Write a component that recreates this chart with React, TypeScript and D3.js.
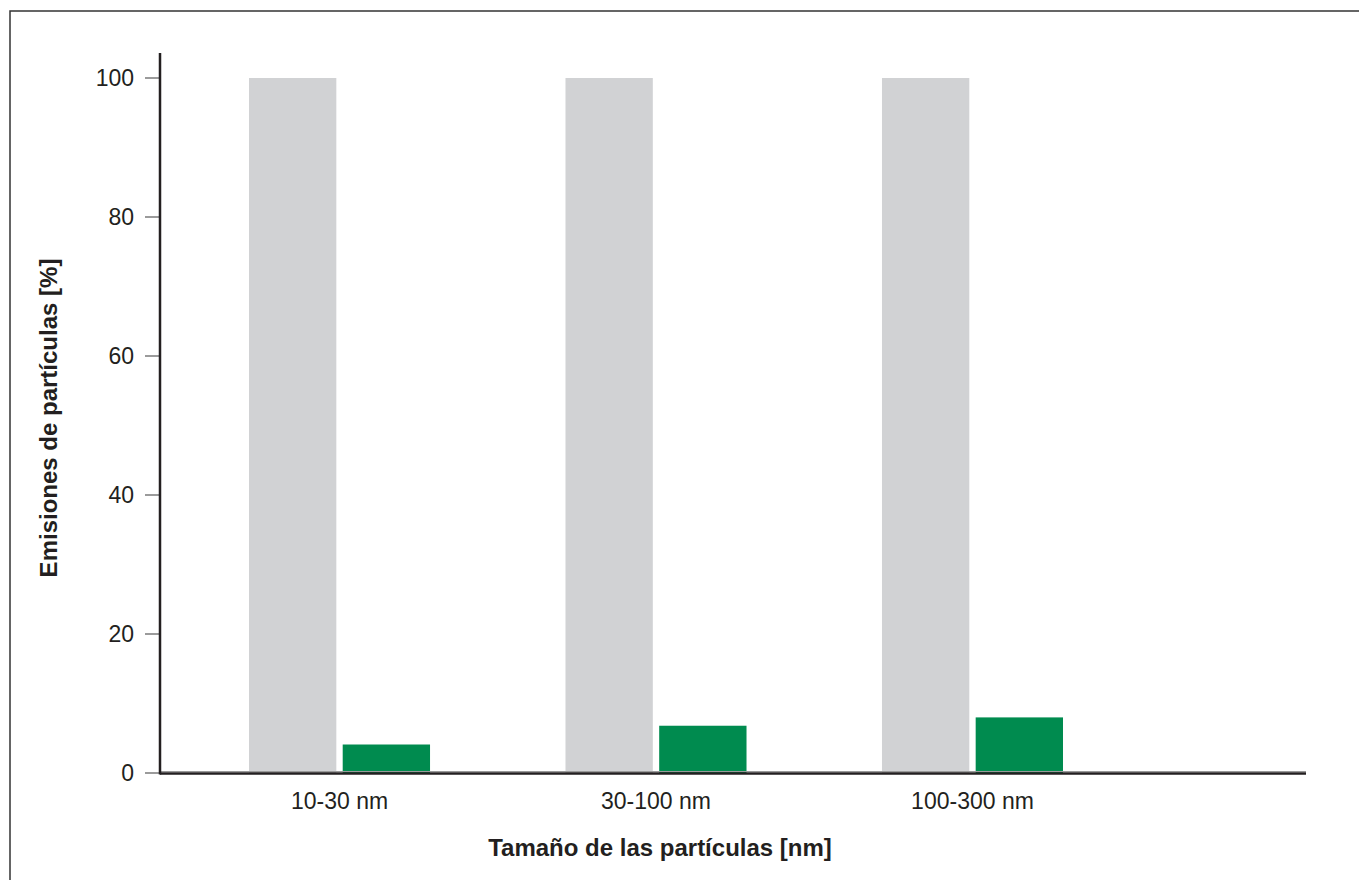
import { useEffect, useRef } from "react";
import * as d3 from "d3";

const categories = ["10-30 nm", "30-100 nm", "100-300 nm"];
const series = ["referencia", "filtro"];
const referenceValues = [100, 100, 100];
const filterValues = [4.1, 6.8, 8.0];
const yTicks = [0, 20, 40, 60, 80, 100];

const yTitle = "Emisiones de partículas [%]";
const xTitle = "Tamaño de las partículas [nm]";

const colors: Record<string, string> = {
  referencia: "#d1d2d4",
  filtro: "#008b4f",
};

export default function App() {
  const ref = useRef<HTMLDivElement>(null);

  useEffect(() => {
    document.body.style.margin = "0";

    const outerWidth = 1359;
    const outerHeight = 880;
    const axisX = 160;
    const axisY = 773;
    const axisTop = 53;
    const axisRight = 1306;
    const font = "'Liberation Sans', Arial, Helvetica, sans-serif";
    const ink = "#231f20";

    const svg = d3
      .select(ref.current)
      .html("")
      .append("svg")
      .attr("width", outerWidth)
      .attr("height", outerHeight)
      .style("display", "block");

    svg
      .append("rect")
      .attr("x", 10)
      .attr("y", 11)
      .attr("width", outerWidth + 20)
      .attr("height", outerHeight + 20)
      .attr("fill", "white")
      .attr("stroke", "#333")
      .attr("stroke-width", 1.5);

    const x0 = d3
      .scaleBand()
      .domain(categories)
      .range([249, 1063])
      .paddingInner(0.428)
      .paddingOuter(0);

    const x1 = d3
      .scaleBand()
      .domain(series)
      .range([0, x0.bandwidth()])
      .paddingInner(0.068);

    const y = d3.scaleLinear().domain([0, 100]).range([axisY, 78]);

    const rows = categories.map((c, i) => ({
      category: c,
      values: [
        { key: "referencia", value: referenceValues[i] },
        { key: "filtro", value: filterValues[i] },
      ],
    }));

    // bars
    svg
      .append("g")
      .selectAll("g")
      .data(rows)
      .join("g")
      .attr("transform", (d) => `translate(${x0(d.category)},0)`)
      .selectAll("rect")
      .data((d) => d.values)
      .join("rect")
      .attr("x", (d) => x1(d.key)!)
      .attr("y", (d) => y(d.value))
      .attr("width", x1.bandwidth())
      .attr("height", (d) => axisY - y(d.value))
      .attr("fill", (d) => colors[d.key]);

    // y ticks
    const yg = svg.append("g");
    yg.selectAll("line")
      .data(yTicks)
      .join("line")
      .attr("x1", 145)
      .attr("x2", axisX)
      .attr("y1", (d) => y(d))
      .attr("y2", (d) => y(d))
      .attr("stroke", "#7a7a7a")
      .attr("stroke-width", 1.5);
    yg.selectAll("text")
      .data(yTicks)
      .join("text")
      .attr("x", 134)
      .attr("y", (d) => y(d))
      .attr("dy", "0.35em")
      .attr("text-anchor", "end")
      .attr("font-family", font)
      .attr("font-size", 23)
      .attr("fill", ink)
      .text((d) => d);

    // axis lines
    svg
      .append("line")
      .attr("x1", axisX)
      .attr("x2", axisRight)
      .attr("y1", axisY - 1.5)
      .attr("y2", axisY - 1.5)
      .attr("stroke", "#9a9a9a")
      .attr("stroke-width", 1);
    svg
      .append("line")
      .attr("x1", axisX)
      .attr("x2", axisX)
      .attr("y1", axisTop)
      .attr("y2", axisY + 1.5)
      .attr("stroke", ink)
      .attr("stroke-width", 2.5);
    svg
      .append("line")
      .attr("x1", axisX)
      .attr("x2", axisRight)
      .attr("y1", axisY + 0.5)
      .attr("y2", axisY + 0.5)
      .attr("stroke", ink)
      .attr("stroke-width", 2.5);

    // x labels
    svg
      .append("g")
      .selectAll("text")
      .data(categories)
      .join("text")
      .attr("x", (d) => x0(d)! + x0.bandwidth() / 2)
      .attr("y", 809)
      .attr("text-anchor", "middle")
      .attr("font-family", font)
      .attr("font-size", 23)
      .attr("fill", ink)
      .text((d) => d);

    // titles
    svg
      .append("text")
      .attr("x", 660)
      .attr("y", 856)
      .attr("text-anchor", "middle")
      .attr("font-family", font)
      .attr("font-size", 24)
      .attr("font-weight", "bold")
      .attr("fill", ink)
      .text(xTitle);

    svg
      .append("text")
      .attr("transform", `translate(57,418) rotate(-90)`)
      .attr("text-anchor", "middle")
      .attr("font-family", font)
      .attr("font-size", 24)
      .attr("font-weight", "bold")
      .attr("fill", ink)
      .text(yTitle);
  }, []);

  return <div ref={ref} />;
}
